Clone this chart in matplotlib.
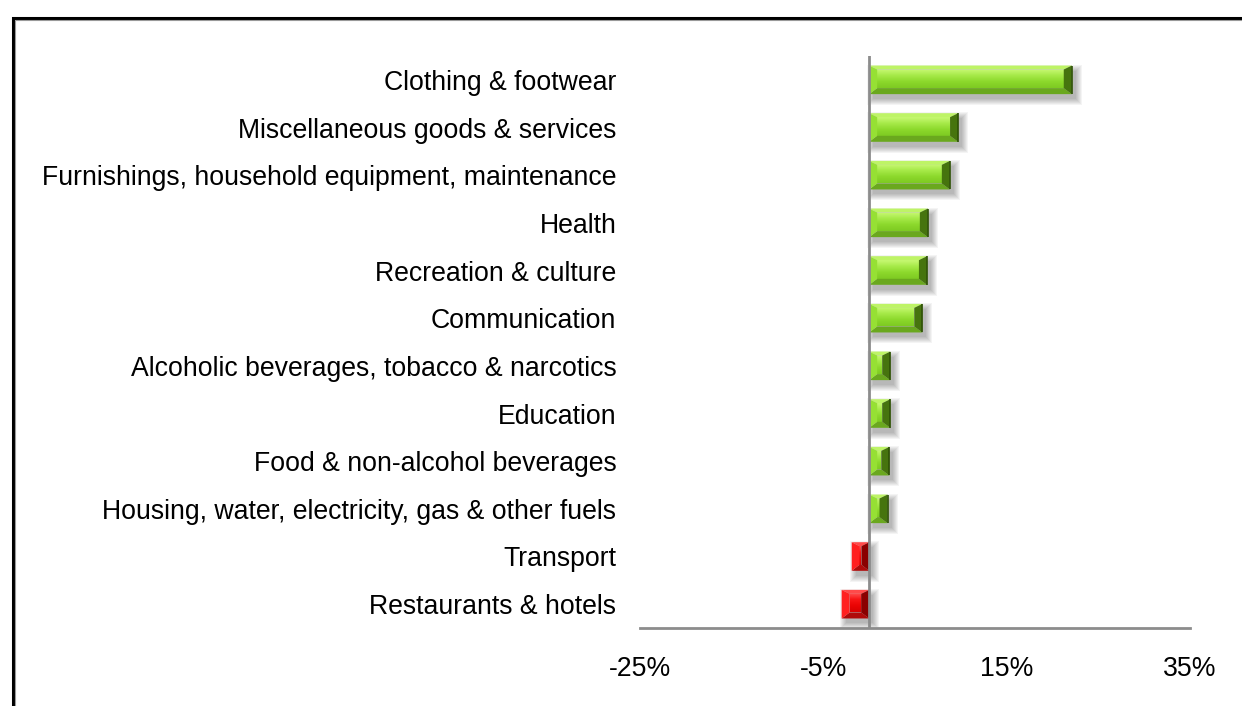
import numpy as np
import matplotlib
matplotlib.use("Agg")
import matplotlib.pyplot as plt
from matplotlib.patches import Polygon, Rectangle
from matplotlib.colors import LinearSegmentedColormap
from matplotlib.ticker import FixedLocator, FuncFormatter

plt.rcParams['font.family'] = ['Liberation Sans', 'DejaVu Sans']

categories = [
    "Restaurants & hotels",
    "Transport",
    "Housing, water, electricity, gas & other fuels",
    "Food & non-alcohol beverages",
    "Education",
    "Alcoholic beverages, tobacco & narcotics",
    "Communication",
    "Recreation & culture",
    "Health",
    "Furnishings, household equipment, maintenance",
    "Miscellaneous goods & services",
    "Clothing & footwear",
]
values = [-3.0, -1.9, 2.0, 2.2, 2.3, 2.3, 5.8, 6.3, 6.4, 8.8, 9.7, 22.1]
x_ticks = [-25, -5, 15, 35]

W, H, DPI = 12.42, 7.06, 100
fig = plt.figure(figsize=(W, H), dpi=DPI)
ax_left, ax_bottom = 640 / 1242, (706 - 628) / 706
ax_w, ax_h = 550 / 1242, 572 / 706
ax = fig.add_axes([ax_left, ax_bottom, ax_w, ax_h])

xmin, xmax = -25, 35
ymin, ymax = -0.5, len(categories) - 0.5
ax.set_xlim(xmin, xmax)
ax.set_ylim(ymin, ymax)

# data units per pixel
dx = (xmax - xmin) / (ax_w * W * DPI)
dy = (ymax - ymin) / (ax_h * H * DPI)

palettes = {
    "pos": dict(top="#bef466", left="#96e034", right="#46740e", bottom="#6aa81e",
                edge="#2f5206",
                grad=["#c8f874", "#a6ea48", "#8cd82c", "#7ecb22"]),
    "neg": dict(top="#ff4a4a", left="#ff2020", right="#8a0000", bottom="#b00a0a",
                edge="#600000",
                grad=["#ff5050", "#f81414", "#ea0404", "#d80000"]),
}

bar_h = 0.6
bevel_side, bevel_top, bevel_bot = 8, 4, 6

for i, v in enumerate(values):
    pal = palettes["pos" if v >= 0 else "neg"]
    x0, x1 = min(0, v), max(0, v)
    y0, y1 = i - bar_h / 2, i + bar_h / 2
    # soft drop shadow
    for k in range(7):
        grow = k * 1.0
        ax.add_patch(Rectangle((x0 + (4 - grow) * dx, y0 - (5 + grow) * dy),
                               (x1 - x0) + 2 * grow * dx, (y1 - y0) + 2 * grow * dy,
                               facecolor="#000000", alpha=0.045, edgecolor="none",
                               zorder=2))
    w_px = (x1 - x0) / dx
    bs = min(bevel_side, w_px / 2 - 1)
    ix0, ix1 = x0 + bs * dx, x1 - bs * dx
    iy0, iy1 = y0 + bevel_bot * dy, y1 - bevel_top * dy
    # inner face with vertical gradient
    cmap = LinearSegmentedColormap.from_list("face", pal["grad"])
    grad = np.linspace(0, 1, 64).reshape(-1, 1)
    poly_in = Polygon([(ix0, iy0), (ix1, iy0), (ix1, iy1), (ix0, iy1)],
                      closed=True, facecolor="none", edgecolor="none", zorder=3)
    ax.add_patch(poly_in)
    img = ax.imshow(grad, extent=(ix0, ix1, iy0, iy1), cmap=cmap, aspect="auto",
                    zorder=3, interpolation="bilinear", origin="upper")
    img.set_clip_path(poly_in)
    # bevel faces
    ax.add_patch(Polygon([(x0, y1), (x1, y1), (ix1, iy1), (ix0, iy1)],
                         facecolor=pal["top"], edgecolor="none", zorder=3))
    ax.add_patch(Polygon([(x0, y0), (x1, y0), (ix1, iy0), (ix0, iy0)],
                         facecolor=pal["bottom"], edgecolor="none", zorder=3))
    ax.add_patch(Polygon([(x0, y0), (x0, y1), (ix0, iy1), (ix0, iy0)],
                         facecolor=pal["left"], edgecolor="none", zorder=3))
    ax.add_patch(Polygon([(x1, y0), (x1, y1), (ix1, iy1), (ix1, iy0)],
                         facecolor=pal["right"], edgecolor="none", zorder=3))
    ax.plot([x1, x1], [y0, y1], color=pal["edge"], lw=1.2, zorder=3,
            solid_capstyle="butt")

ax.set_yticks(range(len(categories)))
ax.set_yticklabels(categories, fontsize=19.2, color="#000000")
ax.tick_params(axis="y", length=0, pad=17)
ax.xaxis.set_major_locator(FixedLocator(x_ticks))
ax.xaxis.set_major_formatter(FuncFormatter(lambda v, p: f"{int(v)}%"))
ax.tick_params(axis="x", length=0, pad=20, labelsize=19.2, labelcolor="#000000")

for s in ["top", "right", "left"]:
    ax.spines[s].set_visible(False)
ax.spines["bottom"].set_color("#8c8c8c")
ax.spines["bottom"].set_linewidth(2)
ax.axvline(0, color="#8c8c8c", lw=2, zorder=4)

# outer frame
fig.patches.append(Rectangle((12.5 / 1242, -0.2), 1.3, (706 - 17.5) / 706 + 0.2,
                             transform=fig.transFigure, fill=False,
                             edgecolor="#000000", linewidth=2.2, zorder=0))
fig.patches.append(Rectangle((14.5 / 1242, -0.2), 1.3, (706 - 19.5) / 706 + 0.2,
                             transform=fig.transFigure, fill=False,
                             edgecolor="#9a9a9a", linewidth=0.8, zorder=0))

fig.savefig("out.png", dpi=DPI)
